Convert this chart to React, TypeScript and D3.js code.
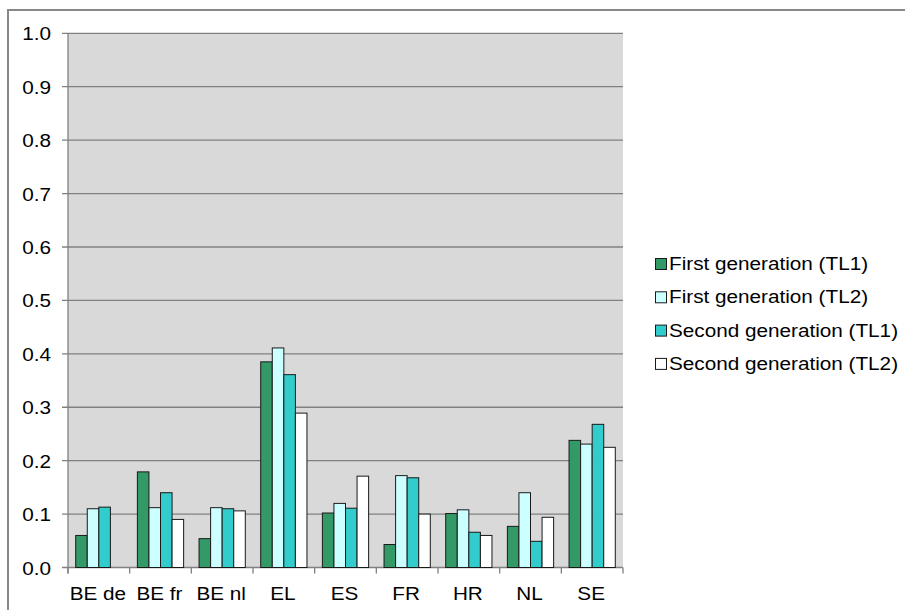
import React from "react";
import * as d3 from "d3";

const categories = ["BE de", "BE fr", "BE nl", "EL", "ES", "FR", "HR", "NL", "SE"];
const seriesNames = [
  "First generation (TL1)",
  "First generation (TL2)",
  "Second generation (TL1)",
  "Second generation (TL2)",
];
const firstGenTL1 = [0.060, 0.179, 0.054, 0.385, 0.102, 0.043, 0.101, 0.077, 0.238];
const firstGenTL2 = [0.110, 0.112, 0.112, 0.411, 0.120, 0.172, 0.108, 0.140, 0.231];
const secondGenTL1 = [0.113, 0.140, 0.110, 0.361, 0.111, 0.168, 0.066, 0.049, 0.268];
const secondGenTL2: (number | null)[] = [null, 0.090, 0.106, 0.289, 0.171, 0.100, 0.060, 0.094, 0.225];
const yTicks = [0, 0.1, 0.2, 0.3, 0.4, 0.5, 0.6, 0.7, 0.8, 0.9, 1.0];
const seriesColors = ["#339966", "#CCFFFF", "#33CCCC", "#FFFFFF"];

const seriesValues = [firstGenTL1, firstGenTL2, secondGenTL1, secondGenTL2];

const W = 905;
const H = 610;
const plot = { left: 68, right: 623, top: 33.3, bottom: 567.5 };
const FONT = "'Liberation Sans', Arial, sans-serif";
const FS = 18.5;
const SX = 1.12;
const SX_LEG = 1.12;
const gridColor = "#808080";

export default function App() {
  const x0 = d3.scaleBand<string>().domain(categories).range([plot.left, plot.right]).padding(0);
  const bw = x0.bandwidth();
  const groupW = bw * 0.75;
  const x1 = d3
    .scaleBand<number>()
    .domain(seriesNames.map((_, i) => i))
    .range([(bw - groupW) / 2, (bw + groupW) / 2])
    .padding(0);
  const y = d3.scaleLinear().domain([0, 1]).range([plot.bottom, plot.top]);

  const boundaries = categories.map((c) => x0(c) as number).concat([plot.right]);

  return (
    <svg
      width={W}
      height={H}
      style={{ position: "absolute", left: 0, top: 0, display: "block", background: "#fff" }}
    >
      <rect x={8} y={10} width={W + 10} height={H + 10} fill="#fff" stroke="#888" strokeWidth={2} />
      <rect
        x={plot.left}
        y={plot.top}
        width={plot.right - plot.left}
        height={plot.bottom - plot.top}
        fill="#D9D9D9"
      />
      {yTicks.map((t) => (
        <g key={t}>
          <line
            x1={plot.left - 6}
            x2={plot.right}
            y1={y(t)}
            y2={y(t)}
            stroke={gridColor}
            strokeWidth={1.3}
          />
          <text
            transform={`translate(${51},${y(t) + 7}) scale(${SX},1)`}
            textAnchor="end"
            fontFamily={FONT}
            fontSize={FS}
            fill="#000"
          >
            {t.toFixed(1)}
          </text>
        </g>
      ))}
      <line x1={plot.left} x2={plot.left} y1={plot.top} y2={plot.bottom + 6} stroke={gridColor} strokeWidth={1.3} />
      {boundaries.map((b, i) => (
        <line key={i} x1={b} x2={b} y1={plot.bottom} y2={plot.bottom + 6} stroke={gridColor} strokeWidth={1.3} />
      ))}
      {categories.map((c, ci) => (
        <g key={c}>
          {seriesValues.map((vals, si) => {
            const v = vals[ci];
            if (v == null) return null;
            const bx = (x0(c) as number) + (x1(si) as number);
            return (
              <rect
                key={si}
                x={bx}
                y={y(v)}
                width={x1.bandwidth()}
                height={y(0) - y(v)}
                fill={seriesColors[si]}
                stroke="#1a1a1a"
                strokeWidth={1}
              />
            );
          })}
          <text
            transform={`translate(${(x0(c) as number) + bw / 2 - 1},${600}) scale(${SX},1)`}
            textAnchor="middle"
            fontFamily={FONT}
            fontSize={FS}
            fill="#000"
          >
            {c}
          </text>
        </g>
      ))}
      {seriesNames.map((s, i) => {
        const base = 270 + i * 33.3;
        return (
          <g key={s}>
            <rect x={655.5} y={base - 11.5} width={11} height={11} fill={seriesColors[i]} stroke="#1a1a1a" strokeWidth={1} />
            <text
              transform={`translate(${669},${base}) scale(${SX_LEG},1)`}
              fontFamily={FONT}
              fontSize={FS}
              fill="#000"
            >
              {s}
            </text>
          </g>
        );
      })}
    </svg>
  );
}
